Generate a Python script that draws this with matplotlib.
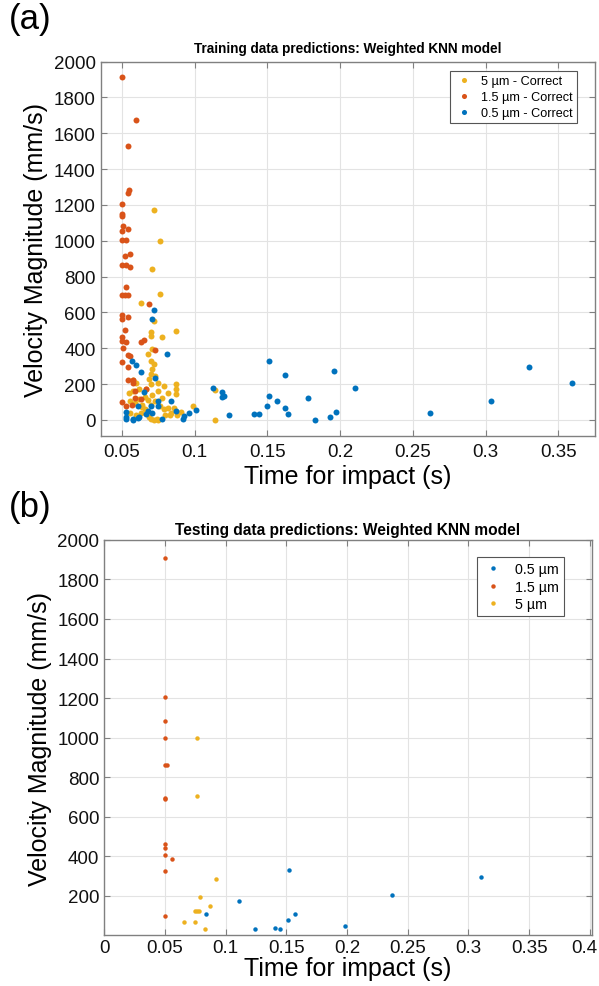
import numpy as np
import matplotlib
matplotlib.use('Agg')
import matplotlib.pyplot as plt
import matplotlib.transforms as mtransforms

plt.rcParams['font.family'] = ['Liberation Sans', 'DejaVu Sans']

# MATLAB default colours
C_BLUE = '#0072BD'
C_ORANGE = '#D95319'
C_YELLOW = '#EDB120'

# ---- (a) training data ----
train_5um_t = [0.072, 0.076, 0.071, 0.076, 0.063, 0.072, 0.070, 0.070, 0.078, 0.087,
               0.071, 0.068, 0.070, 0.072, 0.071, 0.070, 0.069, 0.073, 0.075, 0.079,
               0.087, 0.087, 0.087, 0.055, 0.058, 0.062, 0.067, 0.070, 0.056, 0.059,
               0.062, 0.064, 0.066, 0.070, 0.073, 0.076, 0.079, 0.082, 0.086, 0.099,
               0.114, 0.114, 0.075, 0.070, 0.056, 0.060, 0.063, 0.064, 0.069, 0.072,
               0.074, 0.080, 0.084, 0.088, 0.060, 0.058, 0.066, 0.082, 0.078, 0.068,
               0.071, 0.075, 0.083, 0.091]
train_5um_v = [1171, 1001, 840, 704, 652, 555, 490, 471, 465, 497,
               396, 368, 330, 312, 284, 255, 231, 246, 208, 190,
               199, 171, 143, 152, 161, 171, 171, 199, 105, 95,
               115, 85, 60, 85, 105, 77, 60, 68, 68, 75,
               168, 0, 2, 7, 40, 30, 40, 70, 17, 2,
               6, 30, 40, 25, 205, 224, 130, 150, 120, 110,
               140, 160, 25, 45]

train_15um_t = [0.050, 0.060, 0.054, 0.055, 0.054, 0.050, 0.050, 0.050, 0.051, 0.054,
                0.050, 0.050, 0.053, 0.052, 0.056, 0.050, 0.053, 0.056, 0.053, 0.050,
                0.052, 0.054, 0.069, 0.050, 0.050, 0.054, 0.052, 0.050, 0.050, 0.053,
                0.063, 0.065, 0.051, 0.073, 0.054, 0.056, 0.050, 0.054, 0.054, 0.058,
                0.058, 0.059, 0.067, 0.050, 0.053, 0.057, 0.059, 0.063]
train_15um_v = [1915, 1677, 1528, 1281, 1265, 1206, 1150, 1139, 1085, 1068,
                1053, 1003, 1003, 915, 924, 865, 865, 852, 741, 695,
                695, 698, 648, 583, 564, 577, 502, 465, 443, 437,
                437, 447, 402, 392, 362, 355, 325, 297, 224, 222,
                205, 161, 170, 100, 77, 86, 124, 116]

train_05um_t = [0.072, 0.071, 0.081, 0.057, 0.060, 0.063, 0.073, 0.065, 0.075, 0.075,
                0.070, 0.071, 0.067, 0.068, 0.062, 0.058, 0.061, 0.053, 0.053, 0.053,
                0.058, 0.061, 0.078, 0.084, 0.087, 0.092, 0.093, 0.096, 0.101, 0.113,
                0.119, 0.120, 0.119, 0.124, 0.141, 0.144, 0.150, 0.151, 0.151, 0.157,
                0.162, 0.162, 0.164, 0.178, 0.183, 0.193, 0.196, 0.197, 0.210, 0.262,
                0.304, 0.330, 0.359]
train_05um_v = [616, 564, 366, 331, 308, 269, 232, 156, 105, 77,
                77, 37, 34, 50, 17, 2, 77, 43, 17, 6,
                6, 11, 6, 105, 49, 6, 21, 36, 58, 181,
                157, 131, 126, 30, 35, 32, 78, 134, 329, 106,
                252, 65, 32, 121, 2, 17, 273, 47, 176, 39,
                108, 295, 207]

# ---- (b) testing data ----
test_05um_t = [0.084, 0.111, 0.124, 0.141, 0.145, 0.151, 0.152, 0.157, 0.198, 0.237, 0.310]
test_05um_v = [105, 173, 30, 37, 32, 78, 327, 107, 45, 205, 292]

test_15um_t = [0.050, 0.050, 0.0503, 0.050, 0.050, 0.052, 0.050, 0.0503, 0.050, 0.050,
               0.050, 0.0555, 0.050, 0.050]
test_15um_v = [1910, 1204, 1082, 1000, 862, 862, 692, 690, 463, 442,
               403, 385, 323, 98]

test_5um_t = [0.076, 0.076, 0.092, 0.079, 0.087, 0.075, 0.076, 0.078, 0.066, 0.075, 0.083]
test_5um_v = [1000, 702, 285, 192, 145, 122, 122, 122, 65, 65, 33]

TICK_FS = 13.5
LABEL_FS = 18


def style_axes(ax, xpad):
    ax.grid(True, color='#e3e3e3', linewidth=0.8)
    ax.set_axisbelow(True)
    for s in ax.spines.values():
        s.set_color('#808080')
        s.set_linewidth(1.0)
    ax.tick_params(direction='in', top=True, right=True, length=4,
                   color='#808080', labelsize=TICK_FS, labelcolor='#111111')
    ax.tick_params(axis='x', pad=xpad)


fig = plt.figure(figsize=(5.99, 9.87), dpi=100)

# panel (a)
ax1 = fig.add_axes([0.168, 0.5572, 0.825, 0.3793])
ax1.plot(train_5um_t, train_5um_v, 'o', color=C_YELLOW, ms=4.3, mew=0, label='5 µm - Correct')
ax1.plot(train_15um_t, train_15um_v, 'o', color=C_ORANGE, ms=4.3, mew=0, label='1.5 µm - Correct')
ax1.plot(train_05um_t, train_05um_v, 'o', color=C_BLUE, ms=4.3, mew=0, label='0.5 µm - Correct')
ax1.set_xlim(0.0355, 0.375)
ax1.set_ylim(-90, 2000)
ax1.set_xticks(np.arange(0.05, 0.36, 0.05))
ax1.set_xticklabels(['0.05', '0.1', '0.15', '0.2', '0.25', '0.3', '0.35'])
ax1.set_yticks(np.arange(0, 2001, 200))
style_axes(ax1, 5)
ax1.set_title('Training data predictions: Weighted KNN model', fontsize=9.8,
              fontweight='bold', pad=7)
ax1.set_xlabel('Time for impact (s)', fontsize=LABEL_FS, labelpad=3)
ax1.set_ylabel('Velocity Magnitude (mm/s)', fontsize=LABEL_FS, labelpad=4)
leg1 = ax1.legend(loc='upper right', bbox_to_anchor=(0.9636, 0.975), borderaxespad=0,
                  fontsize=9.1, fancybox=False, framealpha=1, edgecolor='#555555',
                  handletextpad=0.6, borderpad=0.35, labelspacing=0.3, markerscale=0.85,
                  handlelength=1.5)
leg1.get_frame().set_linewidth(0.8)
fig.text(0.015, 0.98, '(a)', fontsize=25, va='center', ha='left')

# panel (b)
ax2 = fig.add_axes([0.1741, 0.0516, 0.8137, 0.4003])
ax2.plot(test_05um_t, test_05um_v, 'o', color=C_BLUE, ms=3.2, mew=0, label='0.5 µm')
ax2.plot(test_15um_t, test_15um_v, 'o', color=C_ORANGE, ms=3.2, mew=0, label='1.5 µm')
ax2.plot(test_5um_t, test_5um_v, 'o', color=C_YELLOW, ms=3.2, mew=0, label='5 µm')
ax2.set_xlim(0, 0.4015)
ax2.set_ylim(0, 2000)
ax2.set_xticks(np.arange(0, 0.401, 0.05))
ax2.set_xticklabels(['0', '0.05', '0.1', '0.15', '0.2', '0.25', '0.3', '0.35', '0.4'])
ax2.set_yticks(np.arange(200, 2001, 200))
style_axes(ax2, 3)
ax2.set_title('Testing data predictions: Weighted KNN model', fontsize=11.2,
              fontweight='bold', pad=4)
ax2.set_xlabel('Time for impact (s)', fontsize=LABEL_FS, labelpad=0)
ax2.set_ylabel('Velocity Magnitude (mm/s)', fontsize=LABEL_FS, labelpad=4)
leg2 = ax2.legend(loc='upper right', bbox_to_anchor=(0.943, 0.957), borderaxespad=0,
                  fontsize=10.3, fancybox=False, framealpha=1, edgecolor='#555555',
                  handletextpad=0.8, borderpad=0.35, labelspacing=0.25, markerscale=1.0,
                  handlelength=1.5)
leg2.get_frame().set_linewidth(0.8)
fig.text(0.015, 0.4863, '(b)', fontsize=25, va='center', ha='left')

# keep the last x tick label inside the figure edge
last = ax2.get_xticklabels()[-1]
last.set_transform(last.get_transform() + mtransforms.ScaledTranslation(-6 / 100, 0, fig.dpi_scale_trans))

fig.savefig('out.png', dpi=100)
